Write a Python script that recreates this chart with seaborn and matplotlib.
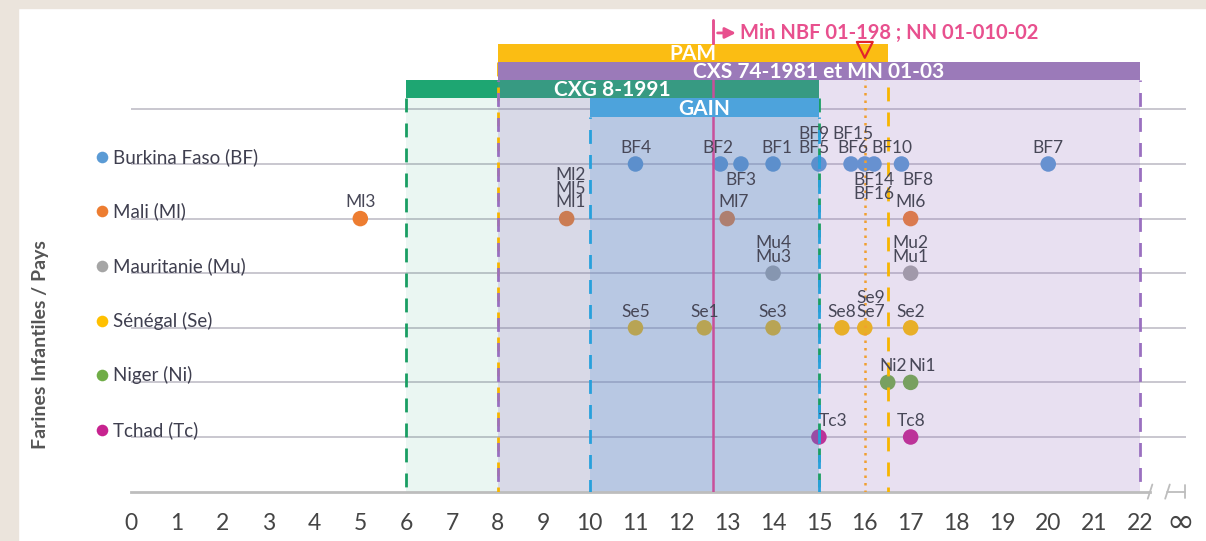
import numpy as np
import pandas as pd
import matplotlib
matplotlib.use('Agg')
import matplotlib.pyplot as plt
from matplotlib.patches import Rectangle
import seaborn as sns

# --- data -------------------------------------------------------------
countries = ['Burkina Faso (BF)', 'Mali (Ml)', 'Mauritanie (Mu)',
             'Sénégal (Se)', 'Niger (Ni)', 'Tchad (Tc)']
country_colors = ['#5b9bd5', '#ed7d31', '#a5a5a5', '#ffc000', '#70ad47', '#c7238f']

# products (labels grouped when points coincide), value on x axis, country
prod_labels = ['BF4', 'BF2', 'BF3', 'BF1', 'BF9\nBF5', 'BF15\nBF6', 'BF14\nBF16', 'BF10', 'BF8', 'BF7',
               'Ml3', 'Ml2\nMl5\nMl1', 'Ml7', 'Ml6',
               'Mu4\nMu3', 'Mu2\nMu1',
               'Se5', 'Se1', 'Se3', 'Se8', 'Se9\nSe7', 'Se2',
               'Ni2', 'Ni1',
               'Tc3', 'Tc8']
prod_values = [11, 12.85, 13.3, 14, 15, 15.7, 16, 16.2, 16.8, 20,
               5, 9.5, 13, 17,
               14, 17,
               11, 12.5, 14, 15.5, 16, 17,
               16.5, 17,
               15, 17]
prod_country = [0] * 10 + [1] * 4 + [2] * 2 + [3] * 6 + [4] * 2 + [5] * 2

# standards (bars at the top)
std_names = ['PAM', 'CXS 74-1981 et MN 01-03', 'CXG 8-1991', 'GAIN']
std_start = [8, 8, 6, 10]
std_end = [16.5, 22, 15, 15]
nbf_min = 12.7     # Min NBF 01-198 ; NN 01-010-02
pam_min = 16       # red triangle on the PAM bar

xticks = list(range(0, 23))

# --- label placement (style, not data) ---------------------------------
lab_below = ['BF3', 'BF14\nBF16', 'BF8']
lab_dx = {'BF2': -0.05, 'BF1': 0.08, 'BF9\nBF5': -0.1, 'BF15\nBF6': 0.05,
          'BF14\nBF16': 0.2, 'BF10': 0.38, 'BF8': 0.35, 'Ml2\nMl5\nMl1': 0.08,
          'Ml7': 0.15, 'Se8': 0.0, 'Se9\nSe7': 0.12, 'Ni2': 0.12, 'Ni1': 0.25,
          'Tc3': 0.32}

sns.set_style('white')
plt.rcParams['font.family'] = ['Lato', 'DejaVu Sans']

df = pd.DataFrame({'x': prod_values,
                   'row': prod_country,
                   'country': [countries[i] for i in prod_country]})
pal = dict(zip(countries, country_colors))

fig = plt.figure(figsize=(12.06, 5.41), dpi=100)
fig.patches.append(Rectangle((0, 0), 18 / 1206, 1, transform=fig.transFigure,
                             color='#ebe4dc', zorder=0))
fig.patches.append(Rectangle((0, 1 - 8 / 541), 1, 8 / 541, transform=fig.transFigure,
                             color='#ebe4dc', zorder=0))
ax = fig.add_axes([18 / 1206, (541 - 491.6) / 541, 1188 / 1206, (491.6 - 8) / 541])
ax.set_facecolor('none')

# gridlines
for r in range(-1, 6):
    ax.plot([0, 23], [r, r], color='#c9c7cf', lw=1.4, zorder=1, solid_capstyle='butt')

# points
sns.scatterplot(data=df, x='x', y='row', hue='country', palette=pal, s=125,
                linewidth=0, legend=False, ax=ax, zorder=2)

# y-bar positions (row units)
bar_y = {'PAM': (-2.20, -1.87), 'CXS 74-1981 et MN 01-03': (-1.87, -1.54),
         'CXG 8-1991': (-1.54, -1.21), 'GAIN': (-1.21, -0.86)}
bar_col = {'PAM': '#fbbd13', 'CXS 74-1981 et MN 01-03': '#9b7ab9',
           'CXG 8-1991': '#1ea672', 'GAIN': '#4da3dc'}
bar_z = {'PAM': 5, 'CXS 74-1981 et MN 01-03': 5, 'CXG 8-1991': 2.5, 'GAIN': 5}

# shaded ranges
s = dict(zip(std_names, zip(std_start, std_end)))
x0, x1 = s['CXG 8-1991']
ax.fill_between([x0, x1], bar_y['CXG 8-1991'][1], 6, color='#1ea672', alpha=0.09, lw=0, zorder=3)
x0, x1 = s['CXS 74-1981 et MN 01-03']
ax.fill_between([x0, x1], bar_y['CXS 74-1981 et MN 01-03'][1], 6, color='#9670c0', alpha=0.21, lw=0, zorder=3)
x0, x1 = s['GAIN']
ax.fill_between([x0, x1], bar_y['GAIN'][1], 6, color='#4a8cd8', alpha=0.22, lw=0, zorder=3)

# bars
for name, a, b in zip(std_names, std_start, std_end):
    y0, y1 = bar_y[name]
    ax.barh(y=(y0 + y1) / 2, width=b - a, left=a, height=y1 - y0,
            color=bar_col[name], lw=0, zorder=bar_z[name])
    ax.text((a + b) / 2, (y0 + y1) / 2 + 0.02, name, ha='center', va='center',
            color='white', fontsize=15, fontweight='bold', zorder=7)

# dashed boundaries
dash_specs = [
    ('CXG 8-1991', '#1a9e63', (0, (5, 4))),
    ('PAM', '#f7b500', (0, (5, 4))),
    ('CXS 74-1981 et MN 01-03', '#9a70c0', (4.5, (5, 4))),
    ('GAIN', '#27a0dc', (4.5, (5, 4))),
]
for name, col, ls in dash_specs:
    a, b = s[name]
    top = bar_y[name][1]
    for xv in (a, b):
        ax.plot([xv, xv], [top, 6], color=col, lw=2, ls=ls, zorder=4)
ax.plot([pam_min, pam_min], [-2.0, 6], color='#f0a030', lw=1.8, ls=(0, (1, 2)), zorder=4)

# Min NBF line and arrow
ax.plot([nbf_min, nbf_min], [-2.64, 6], color='#c8509a', lw=1.8, zorder=4.5)
ax.plot([nbf_min, nbf_min], [-2.64, -2.2], color='#e8508e', lw=1.8, zorder=6)
ax.annotate('', xy=(13.25, -2.40), xytext=(nbf_min + 0.03, -2.40),
            arrowprops=dict(arrowstyle='-|>', color='#e8508e', lw=2, mutation_scale=16),
            zorder=6)
ax.text(13.27, -2.40, 'Min NBF 01-198 ; NN 01-010-02', ha='left', va='center',
        color='#e8508e', fontsize=14.5, fontweight='bold', zorder=7)
ax.scatter([pam_min], [-2.09], marker='v', s=130, facecolor='none',
           edgecolor='#e3242b', linewidth=1.6, zorder=8)

# point labels
for lab, xv, r in zip(prod_labels, prod_values, prod_country):
    dx = lab_dx.get(lab, 0)
    if lab in lab_below:
        ax.text(xv + dx, r + 0.15, lab, ha='center', va='top', fontsize=12.5,
                color='#474757', linespacing=0.82, zorder=7)
    else:
        ax.text(xv + dx, r - 0.15, lab, ha='center', va='bottom', fontsize=12.5,
                color='#474757', linespacing=0.82, zorder=7)

# country labels
for i, (c, col) in enumerate(zip(countries, country_colors)):
    ax.scatter([-0.64], [i - 0.13], s=70, color=col, lw=0, zorder=7, clip_on=False)
    ax.text(-0.40, i - 0.13, c, ha='left', va='center', fontsize=13.5,
            color='#3f3f4f', zorder=7)

ax.text(-1.98, 3.31, 'Farines Infantiles / Pays', rotation=90, ha='center',
        va='center', fontsize=14, fontweight='bold', color='#555555')

# x axis
for sp in ['top', 'right', 'left']:
    ax.spines[sp].set_visible(False)
ax.spines['bottom'].set_color('#bdbdbd')
ax.spines['bottom'].set_linewidth(2)
ax.spines['bottom'].set_bounds(0, 22.22)
ax.spines['bottom'].set_zorder(3.5)
ax.set_xticks(xticks)
ax.set_xticklabels([str(t) for t in xticks])
ax.set_xticks(np.arange(0.5, 22, 1), minor=True)
ax.tick_params(axis='x', which='major', direction='inout', length=7, width=1.2,
               color='#bdbdbd', pad=12, labelsize=16.5, labelcolor='#454545')
ax.tick_params(axis='x', which='minor', direction='inout', length=4, width=1.0,
               color='#bdbdbd')
ax.set_yticks([])
ax.set_xlabel('')
ax.set_ylabel('')

# axis break and infinity
brk = dict(color='#bdbdbd', lw=1.3, clip_on=False, zorder=6)
ax.plot([22.17, 22.27], [6.13, 5.87], **brk)
ax.plot([22.55, 22.65], [6.13, 5.87], **brk)
ax.plot([22.6, 22.98], [6.0, 6.0], **brk)
ax.plot([22.98, 22.98], [5.88, 6.12], **brk)
ax.text(22.88, 6.56, '∞', ha='center', va='center', fontsize=24,
        color='#454545', family='DejaVu Sans', clip_on=False)

ax.set_xlim(-2.464, 23.44)
ax.set_ylim(6, -2.857)

fig.savefig('out.png', dpi=100)
